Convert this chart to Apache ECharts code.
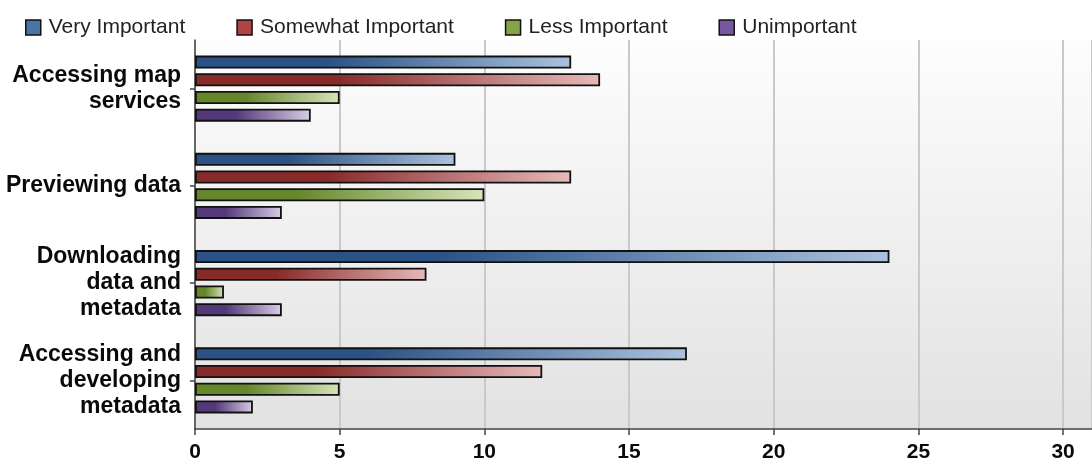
<!DOCTYPE html>
<html>
<head>
<meta charset="utf-8">
<script src="https://cdn.jsdelivr.net/npm/echarts@6/dist/echarts.min.js"></script>
<style>
  html, body { margin: 0; padding: 0; background: #fff; }
  #chart { width: 1092px; height: 463px; }
</style>
</head>
<body>
<div id="chart"></div>
<script>
var categories = [
    'Accessing map\nservices',
    'Previewing data',
    'Downloading\ndata and\nmetadata',
    'Accessing and\ndeveloping\nmetadata'
];
var seriesNames = ['Very Important', 'Somewhat Important', 'Less Important', 'Unimportant'];
var veryImportant = [13, 9, 24, 17];
var somewhatImportant = [14, 13, 8, 12];
var lessImportant = [5, 10, 1, 5];
var unimportant = [4, 3, 3, 2];
var xTicks = [0, 5, 10, 15, 20, 25, 30];

// dark -> light gradient per series, plus a flat colour for the legend swatch
var palette = [
    { dark: '#2a5284', light: '#abc2de', flat: '#4a74a8' },
    { dark: '#882a2a', light: '#e6b9b9', flat: '#b04444' },
    { dark: '#66862a', light: '#d6e5ba', flat: '#84a447' },
    { dark: '#54397a', light: '#d8cde5', flat: '#7657a0' }
];

function barGradient(c) {
    return new echarts.graphic.LinearGradient(0, 0, 1, 0, [
        { offset: 0, color: c.dark },
        { offset: 0.35, color: c.dark },
        { offset: 1, color: c.light }
    ]);
}

var values = [veryImportant, somewhatImportant, lessImportant, unimportant];

var myChart = echarts.init(document.getElementById('chart'));
var option = {
    animation: false,
    legend: {
        left: 20,
        top: 12,
        itemWidth: 15,
        itemHeight: 15,
        itemGap: 51,
        icon: 'rect',
        textStyle: {
            fontFamily: 'Liberation Sans, Arial, sans-serif',
            fontSize: 21,
            color: '#222',
            padding: [0, 0, 0, 3]
        },
        data: seriesNames.map(function (name, i) {
            return {
                name: name,
                itemStyle: { color: palette[i].flat, borderColor: '#111', borderWidth: 1.5 }
            };
        })
    },
    grid: {
        left: 195,
        right: 0,
        top: 40,
        bottom: 34,
        show: true,
        borderWidth: 0,
        backgroundColor: new echarts.graphic.LinearGradient(0, 0, 0, 1, [
            { offset: 0, color: '#fdfdfd' },
            { offset: 1, color: '#e2e2e2' }
        ])
    },
    xAxis: {
        type: 'value',
        min: 0,
        max: 31,
        interval: 5,
        axisLine: { show: true, lineStyle: { color: '#444', width: 1.5 } },
        axisTick: { show: true, length: 6, lineStyle: { color: '#444', width: 1.5 } },
        splitLine: { show: true, lineStyle: { color: '#c9c9c9', width: 2 } },
        axisLabel: {
            margin: 13,
            showMaxLabel: false,
            fontFamily: 'Liberation Sans, Arial, sans-serif',
            fontWeight: 'bold',
            fontSize: 21,
            color: '#0a0a0a',
            formatter: function (v) {
                return xTicks.indexOf(v) >= 0 ? String(v) : '';
            }
        }
    },
    yAxis: {
        type: 'category',
        inverse: true,
        data: categories,
        axisLine: { show: true, lineStyle: { color: '#444', width: 1.5 } },
        axisTick: { show: true, alignWithLabel: true, length: 5, lineStyle: { color: '#444', width: 1.5 } },
        splitLine: { show: false },
        axisLabel: {
            margin: 14,
            align: 'right',
            lineHeight: 26,
            fontFamily: 'Liberation Sans, Arial, sans-serif',
            fontWeight: 'bold',
            fontSize: 23,
            color: '#0a0a0a'
        }
    },
    series: seriesNames.map(function (name, i) {
        return {
            name: name,
            type: 'bar',
            data: values[i],
            barWidth: 13,
            barGap: '36%',
            itemStyle: {
                color: barGradient(palette[i]),
                borderColor: '#111',
                borderWidth: 1.8
            }
        };
    })
};
myChart.setOption(option);
</script>
</body>
</html>
